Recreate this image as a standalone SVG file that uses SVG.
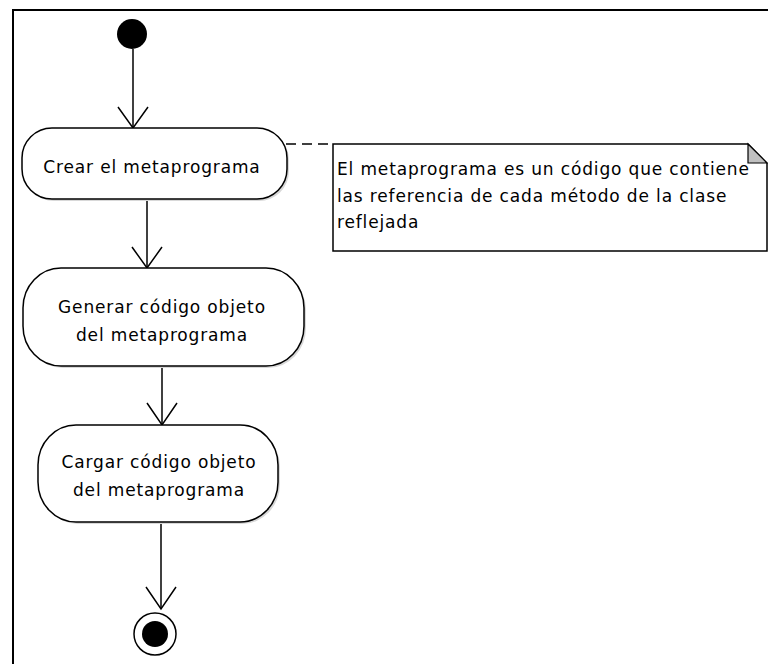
<svg xmlns="http://www.w3.org/2000/svg" width="768" height="664" viewBox="0 0 768 664">
<defs>
<style>
.frame{fill:none;stroke:#000;stroke-width:2}
.act{fill:#fff;stroke:#000;stroke-width:1.5}
.shadow{fill:#d8d8d8;stroke:none}
.edge{fill:none;stroke:#000;stroke-width:1.5}
.t{font-family:"DejaVu Sans","Liberation Sans",sans-serif;font-size:17px;fill:#000;letter-spacing:0.85px}
.tc{text-anchor:middle}
.note{fill:#fff;stroke:#000;stroke-width:1.5}
.fold{fill:#c0c0c0;stroke:#000;stroke-width:1.2}
.dash{fill:none;stroke:#000;stroke-width:1.5;stroke-dasharray:10 6}
</style>
</defs>
<rect width="768" height="664" fill="#fff"/>
<path class="frame" d="M13,664 V10 H768"/>

<g id="connectors">
<line class="edge" x1="133" y1="49" x2="133" y2="128"/>
<polyline class="edge" points="118,107 133,128 148,107"/>
<line class="edge" x1="147" y1="199" x2="147" y2="268"/>
<polyline class="edge" points="132,247 147,268 162,247"/>
<line class="edge" x1="162" y1="366" x2="162" y2="425"/>
<polyline class="edge" points="147,403 162,425 177,403"/>
<line class="edge" x1="161" y1="522" x2="161" y2="609"/>
<polyline class="edge" points="146,587 161,609 176,587"/>
<line class="dash" x1="286" y1="144" x2="333" y2="144"/>
</g>

<g id="start">
<circle cx="132" cy="34" r="15" fill="#000"/>
</g>

<g id="act1">
<rect class="shadow" x="24" y="130" width="265" height="71" rx="30" ry="30"/>
<rect class="act" x="22" y="128" width="265" height="71" rx="30" ry="30"/>
<text class="t tc" x="152" y="173">Crear el metaprograma</text>
</g>

<g id="act2">
<rect class="shadow" x="25" y="270" width="281" height="98" rx="38" ry="40"/>
<rect class="act" x="23" y="268" width="281" height="98" rx="38" ry="40"/>
<text class="t tc" x="162" y="313">Generar código objeto</text>
<text class="t tc" x="162" y="341">del metaprograma</text>
</g>

<g id="act3">
<rect class="shadow" x="40" y="427" width="240" height="97" rx="38" ry="40"/>
<rect class="act" x="38" y="425" width="240" height="97" rx="38" ry="40"/>
<text class="t tc" x="159" y="468">Cargar código objeto</text>
<text class="t tc" x="159" y="496">del metaprograma</text>
</g>

<g id="end">
<circle cx="155" cy="634" r="21" fill="#fff" stroke="#000" stroke-width="1.5"/>
<circle cx="155" cy="634" r="13" fill="#000"/>
</g>

<g id="note">
<path class="note" d="M333,144 H748 L767,163 V251 H333 Z"/>
<path class="fold" d="M748,144 V163 H767 Z"/>
<text class="t" x="337" y="175">El metaprograma es un código que contiene</text>
<text class="t" x="337" y="202">las referencia de cada método de la clase</text>
<text class="t" x="337" y="228">reflejada</text>
</g>
</svg>
